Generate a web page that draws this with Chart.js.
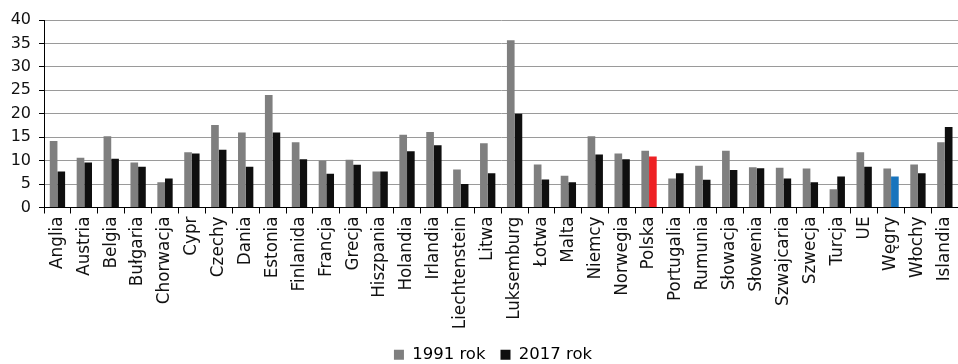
<!DOCTYPE html>
<html lang="pl">
<head>
<meta charset="utf-8">
<script src="https://cdn.jsdelivr.net/npm/chart.js@4.4.1/dist/chart.umd.min.js"></script>
<style>
  html, body { margin: 0; padding: 0; background: #fff; overflow: hidden; }
  #wrap { position: relative; width: 968px; height: 373px; }
</style>
</head>
<body>
<div id="wrap"><canvas id="chart"></canvas></div>
<script>
// Kraje (kategorie osi X)
const countries = [
  'Anglia', 'Austria', 'Belgia', 'Bułgaria', 'Chorwacja', 'Cypr', 'Czechy', 'Dania',
  'Estonia', 'Finlanida', 'Francja', 'Grecja', 'Hiszpania', 'Holandia', 'Irlandia',
  'Liechtenstein', 'Litwa', 'Luksemburg', 'Łotwa', 'Malta', 'Niemcy', 'Norwegia',
  'Polska', 'Portugalia', 'Rumunia', 'Słowacja', 'Słowenia', 'Szwajcaria', 'Szwecja',
  'Turcja', 'UE', 'Węgry', 'Włochy', 'Islandia'
];

// Wartości dla roku 1991
const values1991 = [
  14.2, 10.6, 15.2, 9.6, 5.4, 11.8, 17.6, 16.0,
  24.0, 13.9, 10.0, 10.2, 7.7, 15.5, 16.1,
  8.1, 13.7, 35.7, 9.2, 6.8, 15.2, 11.5,
  12.1, 6.2, 8.9, 12.1, 8.6, 8.5, 8.3,
  3.9, 11.8, 8.3, 9.2, 13.9
];

// Wartości dla roku 2017
const values2017 = [
  7.7, 9.6, 10.4, 8.7, 6.2, 11.5, 12.3, 8.7,
  16.0, 10.3, 7.2, 9.1, 7.7, 12.0, 13.3,
  5.0, 7.3, 20.0, 6.0, 5.4, 11.3, 10.3,
  10.9, 7.3, 5.9, 8.0, 8.4, 6.2, 5.4,
  6.6, 8.7, 6.6, 7.3, 17.2
];

const yTicks = [0, 5, 10, 15, 20, 25, 30, 35, 40];

const seriesLabels = ['1991 rok', '2017 rok'];
const color1991 = '#7f7f7f';
const color2017 = '#0f0f0f';
// Wyróżnione słupki 2017: Polska na czerwono, Węgry na niebiesko
const highlight2017 = { 'Polska': '#ee2124', 'Węgry': '#1874bd' };

const colors2017 = countries.map(c => highlight2017[c] || color2017);

const FONT = '"DejaVu Sans", sans-serif';

// Przesuwa legendę nieco w prawo względem środka wykresu
const legendShift = {
  id: 'legendShift',
  afterLayout(chart) {
    const lg = chart.legend;
    if (!lg) return;
    lg.left += 9;
    lg.right += 9;
  }
};

new Chart(document.getElementById('chart'), {
  type: 'bar',
  plugins: [legendShift],
  data: {
    labels: countries,
    datasets: [
      {
        label: seriesLabels[0],
        data: values1991,
        backgroundColor: color1991,
        categoryPercentage: 0.57,
        barPercentage: 1.0
      },
      {
        label: seriesLabels[1],
        data: values2017,
        backgroundColor: colors2017,
        categoryPercentage: 0.57,
        barPercentage: 1.0
      }
    ]
  },
  options: {
    responsive: true,
    maintainAspectRatio: false,
    animation: false,
    layout: { padding: { top: 20, left: 0, right: 0, bottom: 0 } },
    plugins: {
      tooltip: { enabled: false },
      legend: {
        position: 'bottom',
        labels: {
          font: { family: FONT, size: 16.5 },
          color: '#111',
          boxWidth: 10,
          boxHeight: 10,
          padding: 15,
          generateLabels: () => [
            { text: seriesLabels[0], fillStyle: color1991, strokeStyle: color1991, lineWidth: 0, datasetIndex: 0 },
            { text: seriesLabels[1], fillStyle: color2017, strokeStyle: color2017, lineWidth: 0, datasetIndex: 1 }
          ]
        }
      }
    },
    scales: {
      x: {
        afterFit: axis => { axis.height = 124; },
        grid: {
          display: true,
          drawOnChartArea: false,
          drawTicks: true,
          tickLength: 6,
          color: '#000',
          offset: true
        },
        border: { display: true, color: '#000', width: 1 },
        ticks: {
          autoSkip: false,
          maxRotation: 90,
          minRotation: 90,
          padding: 3,
          color: '#111',
          font: { family: FONT, size: 16.8 }
        }
      },
      y: {
        min: 0,
        max: 40,
        afterBuildTicks: axis => { axis.ticks = yTicks.map(v => ({ value: v })); },
        afterFit: axis => { axis.width = 44; },
        grid: {
          color: '#9a9a9a',
          lineWidth: 1,
          drawTicks: true,
          tickLength: 5,
          tickColor: '#000'
        },
        border: { display: true, color: '#000', width: 1 },
        ticks: {
          padding: 8,
          color: '#111',
          font: { family: FONT, size: 16 }
        }
      }
    }
  }
});
</script>
</body>
</html>
